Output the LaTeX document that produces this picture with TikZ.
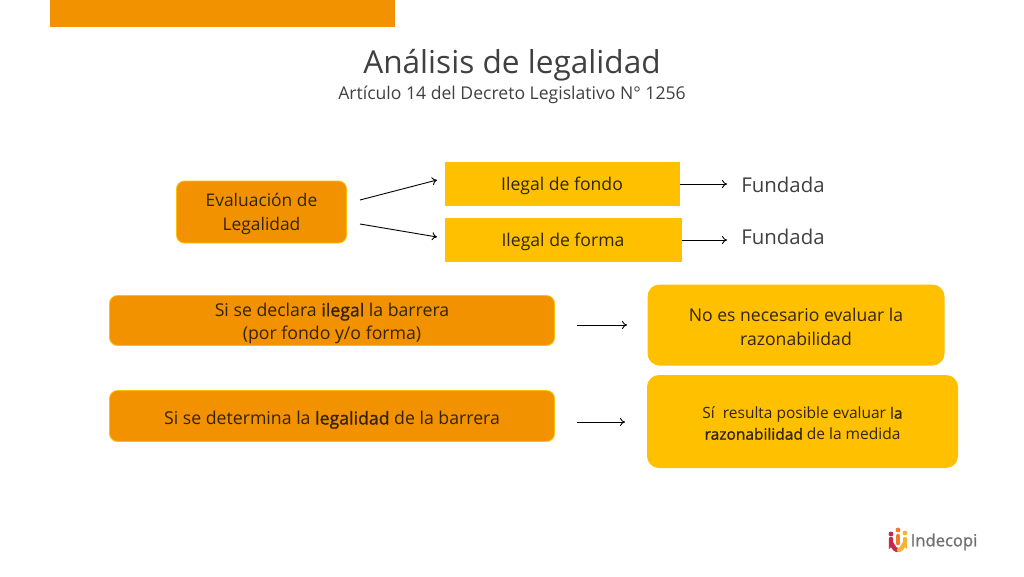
\documentclass[tikz,border=0pt]{standalone}
\usepackage{fontspec}
\usetikzlibrary{arrows.meta}
\setmainfont{Open Sans}
\newfontfamily\fauxbold[FakeBold=1.2]{Open Sans}
\newcommand{\strongtxt}[1]{{\fauxbold #1}}
\newcommand{\dropline}{\rule{0pt}{1em}}
\definecolor{barorange}{HTML}{F39200}
\definecolor{boxyellow}{HTML}{FFC000}
\definecolor{titlegrey}{HTML}{404040}
\definecolor{boxtext}{HTML}{33240A}
\definecolor{logored}{HTML}{C8264B}
\definecolor{logoorange}{HTML}{F07D28}
\definecolor{logoyellow}{HTML}{F9B233}
\definecolor{logogrey}{HTML}{6F6F6F}
\begin{document}
\begin{tikzpicture}[
    x=1pt, y=-1pt,
    band/.style={rectangle, draw=none, fill=barorange, inner sep=0pt},
    evalbox/.style={rectangle, rounded corners=8pt, draw=boxyellow, line width=0.8pt, fill=barorange, text=boxtext, align=center, inner sep=0pt, font=\fontsize{17.4}{23.5}\selectfont},
    result/.style={rectangle, fill=boxyellow, text=boxtext, text centered, inner sep=0pt, font=\fontsize{17.6}{24}\selectfont},
    bubble/.style={rectangle, rounded corners=12pt, fill=boxyellow, text=boxtext, align=center, inner sep=0pt},
    verdict/.style={text=titlegrey, inner sep=0pt, font=\fontsize{20.4}{24}\selectfont},
    arrow/.style={line width=0.9pt,-{To[length=5pt,width=8pt]},black},
    logobar/.style={line width=4.4pt, line cap=round}
]
\useasboundingbox (0,0) rectangle (1024,576);

% Top band and title
\node[band, minimum width=345pt, minimum height=27pt] (topband) at (222.5,13.5) {};
\node[text=titlegrey, inner sep=0pt, font=\fontsize{31.6}{36}\selectfont] (title) at (512,65) {Análisis de legalidad};
\node[text=titlegrey, inner sep=0pt, font=\fontsize{17.6}{22}\selectfont] (subtitle) at (512,95) {Artículo 14 del Decreto Legislativo N° 1256};

% Legality evaluation
\node[evalbox, minimum width=170pt, minimum height=62pt] (eval) at (261.5,212) {\dropline Evaluación de\\Legalidad};
\coordinate (evalup) at (360,200);
\coordinate (evaldown) at (360,224);
\coordinate (fondoin) at (437,180);
\coordinate (formain) at (437,237);
\node[result, minimum width=235pt, minimum height=44pt] (fondo) at (562,184) {\dropline Ilegal de fondo};
\node[result, minimum width=237pt, minimum height=44pt] (forma) at (563,240) {\dropline Ilegal de forma};
\node[verdict] (fund1) at (783,185) {Fundada};
\node[verdict] (fund2) at (783,237) {Fundada};
\coordinate (fund1in) at (727,184);
\coordinate (fund2in) at (727,240);

% Barrier rows
\node[evalbox, minimum width=445pt, minimum height=50pt, font=\fontsize{17.7}{23.5}\selectfont] (ilegal) at (332,320.5) {\rule{0pt}{1.1em}Si se declara \strongtxt{ilegal} la barrera\\(por fondo y/o forma)};
\node[evalbox, minimum width=445pt, minimum height=51pt, font=\fontsize{17.7}{23.5}\selectfont] (legal) at (332,416) {\rule{0pt}{1.2em}Si se determina la \strongtxt{legalidad} de la barrera};
\node[bubble, minimum width=297pt, minimum height=81pt, font=\fontsize{17.6}{24}\selectfont] (noeval) at (796,325) {\dropline No es necesario evaluar la\\razonabilidad};
\node[bubble, minimum width=311pt, minimum height=93pt, font=\fontsize{15.5}{21}\selectfont] (sieval) at (802.5,421.5) {\dropline Sí\ \ resulta posible evaluar \strongtxt{la}\\\strongtxt{razonabilidad} de la medida};

% Arrows
\coordinate (ilegalout) at (577,325);
\coordinate (legalout) at (577,422);
\coordinate (noin) at (627,325);
\coordinate (siin) at (625,422);
\draw[arrow] (evalup) -- (fondoin);
\draw[arrow] (evaldown) -- (formain);
\draw[arrow] (fondo.east) -- (fund1in);
\draw[arrow] (forma.east) -- (fund2in);
\draw[arrow] (ilegalout) -- (noin);
\draw[arrow] (legalout) -- (siin);

% Logo
\draw[logobar, logored] (891,539) -- (891,544) to[out=90,in=180] (897,550);
\fill[logored] (891,534) circle (2.4pt);
\draw[logobar, logoorange] (898,536) -- (898,543);
\fill[logoorange] (898,530) circle (2.4pt);
\draw[logobar, logoyellow] (905,539) -- (905,544) to[out=90,in=0] (899,550);
\fill[logoyellow] (905,533) circle (2.4pt);
\node[text=logogrey, inner sep=0pt, font=\fontsize{16.6}{18}\selectfont\fauxbold] (logo) at (944,542) {Indecopi};
\end{tikzpicture}
\end{document}
